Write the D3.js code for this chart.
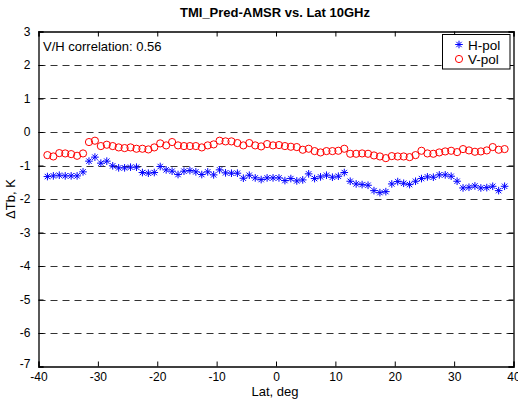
<!DOCTYPE html>
<html><head><meta charset="utf-8">
<script src="https://cdn.jsdelivr.net/npm/d3@7"></script>
<style>body{margin:0;background:#fff}svg{display:block}text{font-family:"Liberation Sans",Arial,sans-serif}</style>
</head><body><svg id="c" width="518" height="400"></svg>
<script>
const lats = d3.range(78).map(i => -38.5 + i);
const vpol = [-0.69,-0.73,-0.63,-0.64,-0.66,-0.71,-0.64,-0.30,-0.26,-0.42,-0.38,-0.42,-0.46,
  -0.48,-0.46,-0.50,-0.50,-0.52,-0.46,-0.34,-0.40,-0.30,-0.40,-0.42,-0.42,-0.42,
  -0.46,-0.40,-0.37,-0.26,-0.28,-0.28,-0.33,-0.40,-0.33,-0.40,-0.43,-0.36,-0.40,
  -0.39,-0.42,-0.44,-0.45,-0.53,-0.50,-0.57,-0.61,-0.57,-0.57,-0.56,-0.50,-0.65,
  -0.65,-0.64,-0.65,-0.70,-0.73,-0.78,-0.72,-0.73,-0.73,-0.75,-0.69,-0.56,-0.64,
  -0.65,-0.61,-0.58,-0.56,-0.60,-0.51,-0.55,-0.59,-0.58,-0.55,-0.45,-0.53,-0.51];
const hpol = [-1.33,-1.31,-1.29,-1.31,-1.31,-1.31,-1.19,-0.87,-0.75,-0.93,-0.87,-1.01,-1.07,
  -1.07,-1.05,-1.05,-1.21,-1.23,-1.21,-1.03,-1.13,-1.17,-1.27,-1.17,-1.15,-1.19,
  -1.27,-1.19,-1.28,-1.13,-1.22,-1.23,-1.23,-1.38,-1.29,-1.37,-1.42,-1.37,-1.37,
  -1.37,-1.45,-1.39,-1.46,-1.43,-1.25,-1.39,-1.34,-1.29,-1.35,-1.32,-1.21,-1.47,
  -1.55,-1.57,-1.59,-1.75,-1.81,-1.78,-1.55,-1.48,-1.53,-1.57,-1.47,-1.39,-1.34,
  -1.35,-1.28,-1.28,-1.32,-1.47,-1.67,-1.65,-1.61,-1.67,-1.66,-1.62,-1.75,-1.62];
const xTicks = [-40,-30,-20,-10,0,10,20,30,40];
const yTicks = [3,2,1,0,-1,-2,-3,-4,-5,-6,-7];
const gridVals = [2,1,0,-1,-2,-3,-4,-5,-6];
const seriesNames = ["H-pol","V-pol"];
const titleText = "TMI_Pred-AMSR vs. Lat 10GHz";
const annotation = "V/H correlation: 0.56";

const svg = d3.select("#c");
const L = 38.5, R = 513.5, T = 31.5, B = 366.5;
const x = d3.scaleLinear().domain([-40, 40]).range([L, R]);
const y = d3.scaleLinear().domain([-7, 3]).range([B, T]);
const fmt = d => String(d);

// grid dashed lines
svg.append("g").selectAll("line").data(gridVals).join("line")
  .attr("x1", L).attr("x2", R).attr("y1", d => Math.round(y(d)) + 0.5).attr("y2", d => Math.round(y(d)) + 0.5)
  .attr("stroke", "#333").attr("stroke-width", 1.2).attr("stroke-dasharray", "7,5");

// axes
const tl = 5;
const gB = svg.append("g").attr("transform", `translate(0,${B})`)
  .call(d3.axisBottom(x).tickValues(xTicks).tickSize(-tl).tickPadding(1 + tl).tickFormat(fmt));
const gT = svg.append("g").attr("transform", `translate(0,${T})`)
  .call(d3.axisTop(x).tickValues(xTicks).tickSize(-tl).tickFormat(""));
const gL = svg.append("g").attr("transform", `translate(${L},0)`)
  .call(d3.axisLeft(y).tickValues(yTicks).tickSize(-tl).tickPadding(3 + tl).tickFormat(fmt));
const gR = svg.append("g").attr("transform", `translate(${R},0)`)
  .call(d3.axisRight(y).tickValues(yTicks).tickSize(-tl).tickFormat(""));
[gB, gT, gL, gR].forEach(g => {
  g.select(".domain").attr("stroke", "#000").attr("stroke-width", 1.3);
  g.selectAll(".tick line").attr("stroke", "#000");
  g.selectAll("text").attr("fill", "#000").style("font-size", "12px").style("font-family", '"Liberation Sans",Arial,sans-serif');
});
// MATLAB puts -7 slightly above
gL.selectAll(".tick").filter(d => d === -7).select("text").attr("dy", "0.1em");

// markers
const starPath = (s) => {
  const a = s * 0.7071;
  return `M${-s},0L${s},0M0,${-s}L0,${s}M${-a},${-a}L${a},${a}M${-a},${a}L${a},${-a}`;
};
svg.append("g").selectAll("path").data(lats.map((l, i) => [l, hpol[i]])).join("path")
  .attr("transform", d => `translate(${x(d[0])},${y(d[1])})`)
  .attr("d", starPath(3.8)).attr("stroke", "#0000ff").attr("stroke-width", 1).attr("fill", "none");
svg.append("g").selectAll("circle").data(lats.map((l, i) => [l, vpol[i]])).join("circle")
  .attr("cx", d => x(d[0])).attr("cy", d => y(d[1])).attr("r", 3.6)
  .attr("stroke", "#ff0000").attr("stroke-width", 1).attr("fill", "none");

// title & labels
svg.append("text").attr("x", 275).attr("y", 17).attr("text-anchor", "middle")
  .style("font-size", "13px").style("font-weight", "bold").text(titleText);
svg.append("text").attr("x", 275).attr("y", 396).attr("text-anchor", "middle")
  .style("font-size", "13px").text("Lat, deg");
svg.append("text").attr("transform", "translate(15,199) rotate(-90)").attr("text-anchor", "middle")
  .style("font-size", "13px").text("\u0394Tb, K");
svg.append("text").attr("x", 43).attr("y", 51).style("font-size", "13px").text(annotation);

// legend
const lg = svg.append("g");
lg.append("rect").attr("x", 442.5).attr("y", 34.5).attr("width", 67.5).attr("height", 34.5)
  .attr("fill", "#fff").attr("stroke", "#000").attr("stroke-width", 1);
lg.append("path").attr("transform", "translate(459,44.5)").attr("d", starPath(3.8))
  .attr("stroke", "#0000ff").attr("fill", "none");
lg.append("circle").attr("cx", 459).attr("cy", 59).attr("r", 3.6).attr("stroke", "#ff0000").attr("fill", "none");
lg.selectAll("text.lt").data(seriesNames).join("text").attr("class", "lt")
  .attr("x", 468).attr("y", (d, i) => 49.5 + i * 14.5).style("font-size", "13.5px").text(d => d);
</script></body></html>
